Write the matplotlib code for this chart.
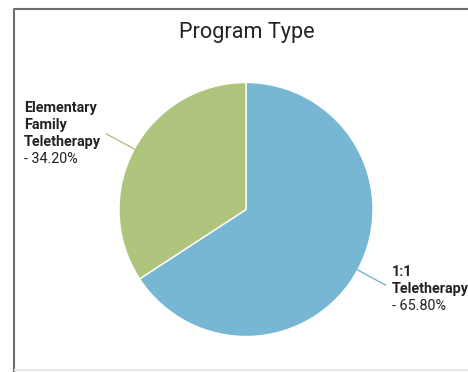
import numpy as np
import matplotlib.pyplot as plt

plt.rcParams['font.family'] = ['Roboto', 'DejaVu Sans']

program_types = ['1:1\nTeletherapy', 'Elementary\nFamily\nTeletherapy']
shares = [65.80, 34.20]
slice_colors = ['#77b7d3', '#afc57d']

W, H = 468, 372
fig = plt.figure(figsize=(W / 100, H / 100), dpi=100)
ax = fig.add_axes([0, 0, 1, 1])

cx, cy, r = 246, H - 209.5, 127
wedges, _ = ax.pie(shares, colors=slice_colors, startangle=90, counterclock=False,
                   center=(cx, cy), radius=r, frame=True,
                   wedgeprops=dict(edgecolor='white', linewidth=1))
ax.set_xlim(0, W)
ax.set_ylim(0, H)
ax.set_aspect('auto')
ax.axis('off')

# card border
ax.plot([13.5, 13.5, W], [0, H - 8.5, H - 8.5], color='#6e6e6e', lw=1.5, solid_capstyle='butt')
ax.plot([15, W], [2.5, 2.5], color='#e6e6e6', lw=1.5)

ax.text(246.5, H - 38, 'Program Type', ha='center', va='baseline', fontsize=15.6, color='#222222')

# leader lines + labels
step = 17
for w, name, pct, col in zip(wedges, program_types, shares, slice_colors):
    ang = np.deg2rad((w.theta1 + w.theta2) / 2)
    dx, dy = np.cos(ang), np.sin(ang)
    x0, y0 = cx + r * dx, cy + r * dy
    x1, y1 = cx + r * 1.25 * dx, cy + r * 1.25 * dy
    ax.plot([x0, x1], [y0, y1], color=col, lw=1)
    if dx < 0:
        tx, drop = 24, 12
    else:
        tx, drop = x1 + 6, 8
    lines = name.split('\n')
    base = y1 - drop + step * (len(lines) - 1)
    for i, line in enumerate(lines):
        ax.text(tx, base - step * i, line, ha='left', va='baseline', fontsize=10.4,
                fontweight='bold', color='#222222')
    ax.text(tx, base - step * len(lines), f'- {pct:.2f}%', ha='left', va='baseline',
            fontsize=10.4, color='#222222')

fig.savefig('out.png', dpi=100)
